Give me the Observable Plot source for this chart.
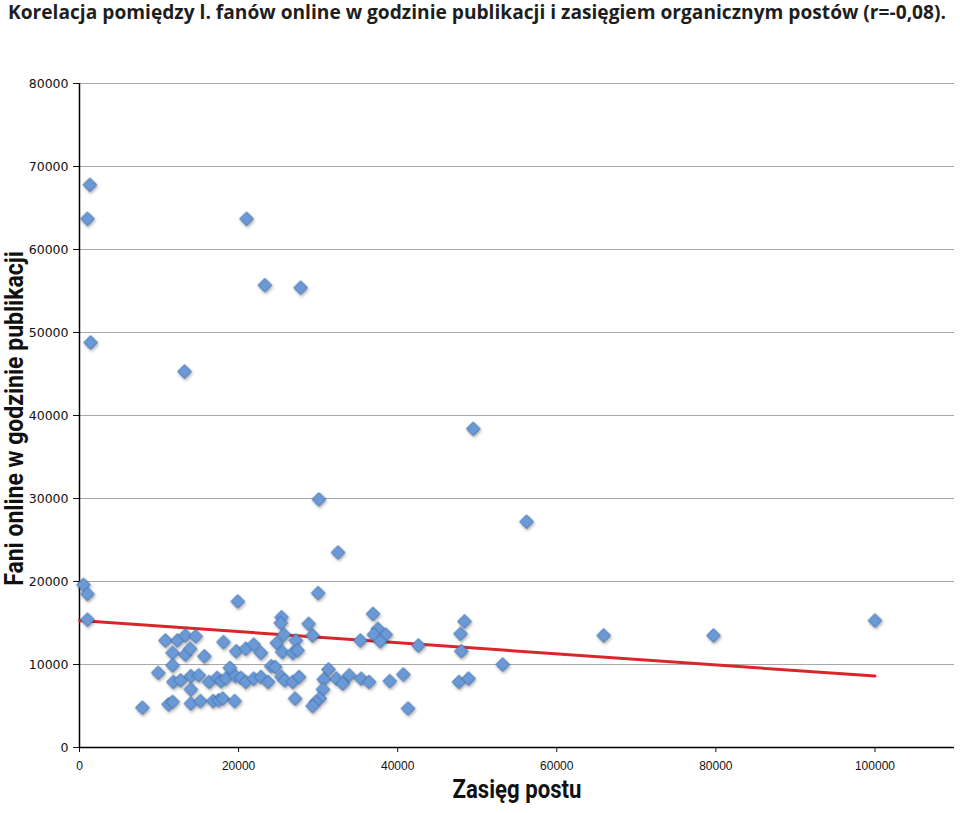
<!DOCTYPE html>
<html>
<head>
<meta charset="utf-8">
<script src="https://cdn.jsdelivr.net/npm/d3@7"></script>
<script src="https://cdn.jsdelivr.net/npm/@observablehq/plot@0.6"></script>
<style>
  html, body { margin: 0; padding: 0; background: #fff; }
  #title { height: 34px; line-height: 24px; padding-left: 8px; white-space: nowrap; overflow: visible;
           font-family: "Open Sans", "Noto Sans", sans-serif; font-weight: bold; color: #1e1e1e; font-size: 20px; }
  #title span { display: inline-block; }
  #chart svg { display: block; }
</style>
</head>
<body>
<div id="title"><span id="tt">Korelacja pomiędzy l. fanów online w godzinie publikacji i zasięgiem organicznym postów (r=-0,08).</span></div>
<div id="chart"></div>
<script>
// Zasięg postu (x) and Fani online w godzinie publikacji (y)
const reach = [
  500, 1000, 1000, 1300, 1000, 1400, 21000, 23300, 27800, 13200,
  49500, 30100, 56200, 32500, 30000, 19900, 48400, 65900, 79700, 100000,
  53200, 41300, 7900, 40700, 42600, 47900, 48000, 47700, 48900, 36900,
  37500, 37000, 38500, 35300, 37800, 39000, 10800, 12300, 13300, 14600,
  11700, 13300, 13900, 15700, 18100, 19700, 20900, 21900, 22800, 25400,
  25300, 24800, 25500, 25700, 26800, 27200, 27400, 28800, 29300, 9900,
  11700, 11800, 12700, 14000, 15000, 14000, 16300, 17300, 17800, 18400,
  18900, 19600, 20300, 20900, 21900, 22800, 23700, 24100, 24600, 25400,
  25800, 26800, 27600, 31300, 30700, 32300, 33100, 33900, 35400, 36400,
  30600, 11200, 11700, 14000, 15200, 16800, 17500, 18000, 19500, 27100,
  30200, 29700, 29300
];
const fans = [
  19600, 18500, 15400, 67800, 63700, 48800, 63700, 55700, 55400, 45300,
  38400, 29900, 27200, 23500, 18600, 17600, 15200, 13500, 13500, 15300,
  10000, 4700, 4800, 8800, 12300, 13700, 11600, 7900, 8300, 16100,
  14300, 13600, 13600, 12900, 12800, 8000, 12900, 12900, 13500, 13400,
  11400, 11200, 11900, 11000, 12700, 11600, 11900, 12400, 11400, 15700,
  15000, 12600, 11500, 13600, 11400, 12900, 11700, 14900, 13500, 9000,
  9900, 7900, 8100, 8600, 8700, 7000, 7900, 8400, 8000, 8300,
  9600, 8600, 8400, 7900, 8300, 8500, 7900, 9800, 9700, 8500,
  8100, 7900, 8500, 9400, 8200, 8300, 7700, 8700, 8300, 7900,
  7000, 5200, 5500, 5300, 5600, 5600, 5700, 5900, 5600, 5900,
  5900, 5500, 5000
];
// Trend line (linear fit) end values
const trendX = [0, 100000];
const trendY = [15300, 8600];

const xTicks = [0, 20000, 40000, 60000, 80000, 100000];
const yTicks = [0, 10000, 20000, 30000, 40000, 50000, 60000, 70000, 80000];
const xLabel = "Zasięg postu";
const yLabel = "Fani online w godzinie publikacji";

const points = reach.map((x, i) => ({x, y: fans[i]}));
const trend = trendX.map((x, i) => ({x, y: trendY[i]}));

const chart = Plot.plot({
  width: 960,
  height: 779,
  marginTop: 49,
  marginBottom: 66,
  marginLeft: 79,
  marginRight: 6,
  x: {domain: [0, 110000]},
  y: {domain: [0, 80000]},
  style: {background: "#fff", color: "#111"},
  marks: [
    Plot.gridY(yTicks, {stroke: "#a8a8a8", strokeOpacity: 1, strokeWidth: 1}),
    Plot.axisY({ticks: yTicks, tickSize: 6, tickPadding: 5, tickFormat: d => String(d), label: null,
                fontSize: 12.5, fontFamily: "DejaVu Sans"}),
    Plot.axisX({ticks: xTicks, tickSize: 5, tickPadding: 9, tickFormat: d => String(d), label: null,
                fontSize: 12, fontFamily: "Liberation Sans Narrow, Liberation Sans"}),
    Plot.ruleX([0], {stroke: "#000", strokeWidth: 1.5}),
    Plot.ruleY([0], {stroke: "#000", strokeWidth: 1.5}),
    Plot.line(trend, {x: "x", y: "y", stroke: "#d8272b", strokeWidth: 3}),
    Plot.dot(points, {x: "x", y: "y", symbol: "diamond2", r: 6.2, fill: "#6a99d6", stroke: "#3f6fb0", strokeWidth: 1}),
    Plot.text([yLabel], {frameAnchor: "left", textAnchor: "middle", dx: -65, dy: 3, rotate: -90, fontSize: 25, fontWeight: "bold",
                         fontFamily: "Roboto, sans-serif", fill: "#111"}),
    Plot.text([xLabel], {frameAnchor: "bottom", textAnchor: "middle", dy: 50, fontSize: 25, fontWeight: "bold",
                         fontFamily: "Roboto, sans-serif", fill: "#111"})
  ]
});
document.getElementById("chart").appendChild(chart);

// fit axis label widths to the reference by horizontal scaling of the glyphs
chart.querySelectorAll("text").forEach(t => {
  let target = null;
  if (t.textContent === yLabel) target = 335;
  if (t.textContent === xLabel) target = 129;
  if (target) {
    const len = t.getComputedTextLength();
    const tr = t.getAttribute("transform") || "";
    t.setAttribute("transform", tr + ` scale(${(target / len).toFixed(4)},1)`);
  }
});
// soft shadow under the diamonds
chart.querySelectorAll("g").forEach(g => {
  if (g.getAttribute("fill") === "#6a99d6") g.style.filter = "drop-shadow(1px 2px 1.5px rgba(0,0,0,0.3))";
});

// fit title width
const tt = document.getElementById("tt");
const w = tt.getBoundingClientRect().width;
tt.parentNode.style.fontSize = (20 * 938 / w).toFixed(2) + "px";
</script>
</body>
</html>
